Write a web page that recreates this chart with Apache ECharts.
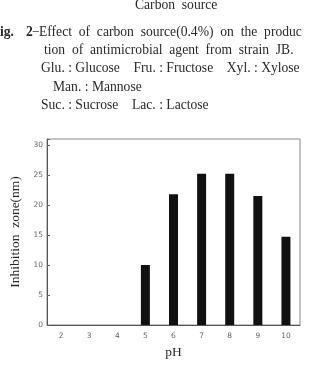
<!DOCTYPE html>
<html><head><meta charset="utf-8">
<script src="https://cdn.jsdelivr.net/npm/echarts@6/dist/echarts.min.js"></script>
<style>html,body{margin:0;padding:0;background:#fff;}#c{width:309px;height:365px;}</style>
</head><body><div id="c"></div>
<script>
const categories = ['2','3','4','5','6','7','8','9','10'];
const inhibitionZone = [0, 0, 0, 10, 21.8, 25.2, 25.2, 21.5, 14.7];
const yTicks = [0, 5, 10, 15, 20, 25, 30];

const serif = '"Liberation Serif", "DejaVu Serif", serif';
const txtColor = '#2a2a2a';
function t(x, y, text, opt) {
  return Object.assign({type:'text', x:x, y:y, style:{text:text, font:'13.6px ' + serif, fill:txtColor, textVerticalAlign:'middle'}}, opt||{});
}
const chart = echarts.init(document.getElementById('c'));
chart.setOption({
  animation:false,
  grid:{left:44, top:139, right:9, bottom:40, show:true, borderColor:'#888', borderWidth:1, backgroundColor:'transparent'},
  xAxis:{type:'category', data:categories, boundaryGap:true,
    name:'pH', nameLocation:'middle', nameGap:20,
    nameTextStyle:{fontFamily:serif, fontSize:13.5, color:txtColor},
    axisLine:{lineStyle:{color:'#555', width:1}}, axisTick:{show:false},
    axisLabel:{fontSize:7.5, color:'#666', margin:7, fontFamily:'DejaVu Sans'}},
  yAxis:{type:'value', min:0, max:31, interval:5,
    name:'Inhibition  zone(nm)', nameLocation:'middle', nameGap:25,
    nameTextStyle:{fontFamily:serif, fontSize:13.5, color:txtColor},
    axisLine:{show:true, lineStyle:{color:'#555', width:1}},
    axisTick:{show:true, inside:true, length:3, lineStyle:{color:'#666'}},
    splitLine:{show:false},
    axisLabel:{fontSize:7.5, color:'#666', margin:4, fontFamily:'DejaVu Sans',
      formatter:function(v){return yTicks.indexOf(v)>=0 ? String(v) : '';}}},
  series:[{type:'bar', data:inhibitionZone, barWidth:9, itemStyle:{color:'#111'}}],
  graphic:[
    t(135, 5, 'Carbon  source'),
    t(0, 32, 'ig.', {style:{text:'ig.', font:'bold 13.6px ' + serif, fill:txtColor, textVerticalAlign:'middle'}}),
    t(26, 32, '2', {style:{text:'2', font:'bold 13.6px ' + serif, fill:txtColor, textVerticalAlign:'middle'}}),
    t(32, 32, '\u2212'),
    t(39, 32, 'Effect  of  carbon  source(0.4%)  on  the  produc'),
    t(44, 50, 'tion  of  antimicrobial  agent  from  strain  JB.'),
    t(41, 68, 'Glu. : Glucose    Fru. : Fructose    Xyl. : Xylose'),
    t(53, 87, 'Man. : Mannose'),
    t(41, 105, 'Suc. : Sucrose    Lac. : Lactose')
  ]
});
</script></body></html>
